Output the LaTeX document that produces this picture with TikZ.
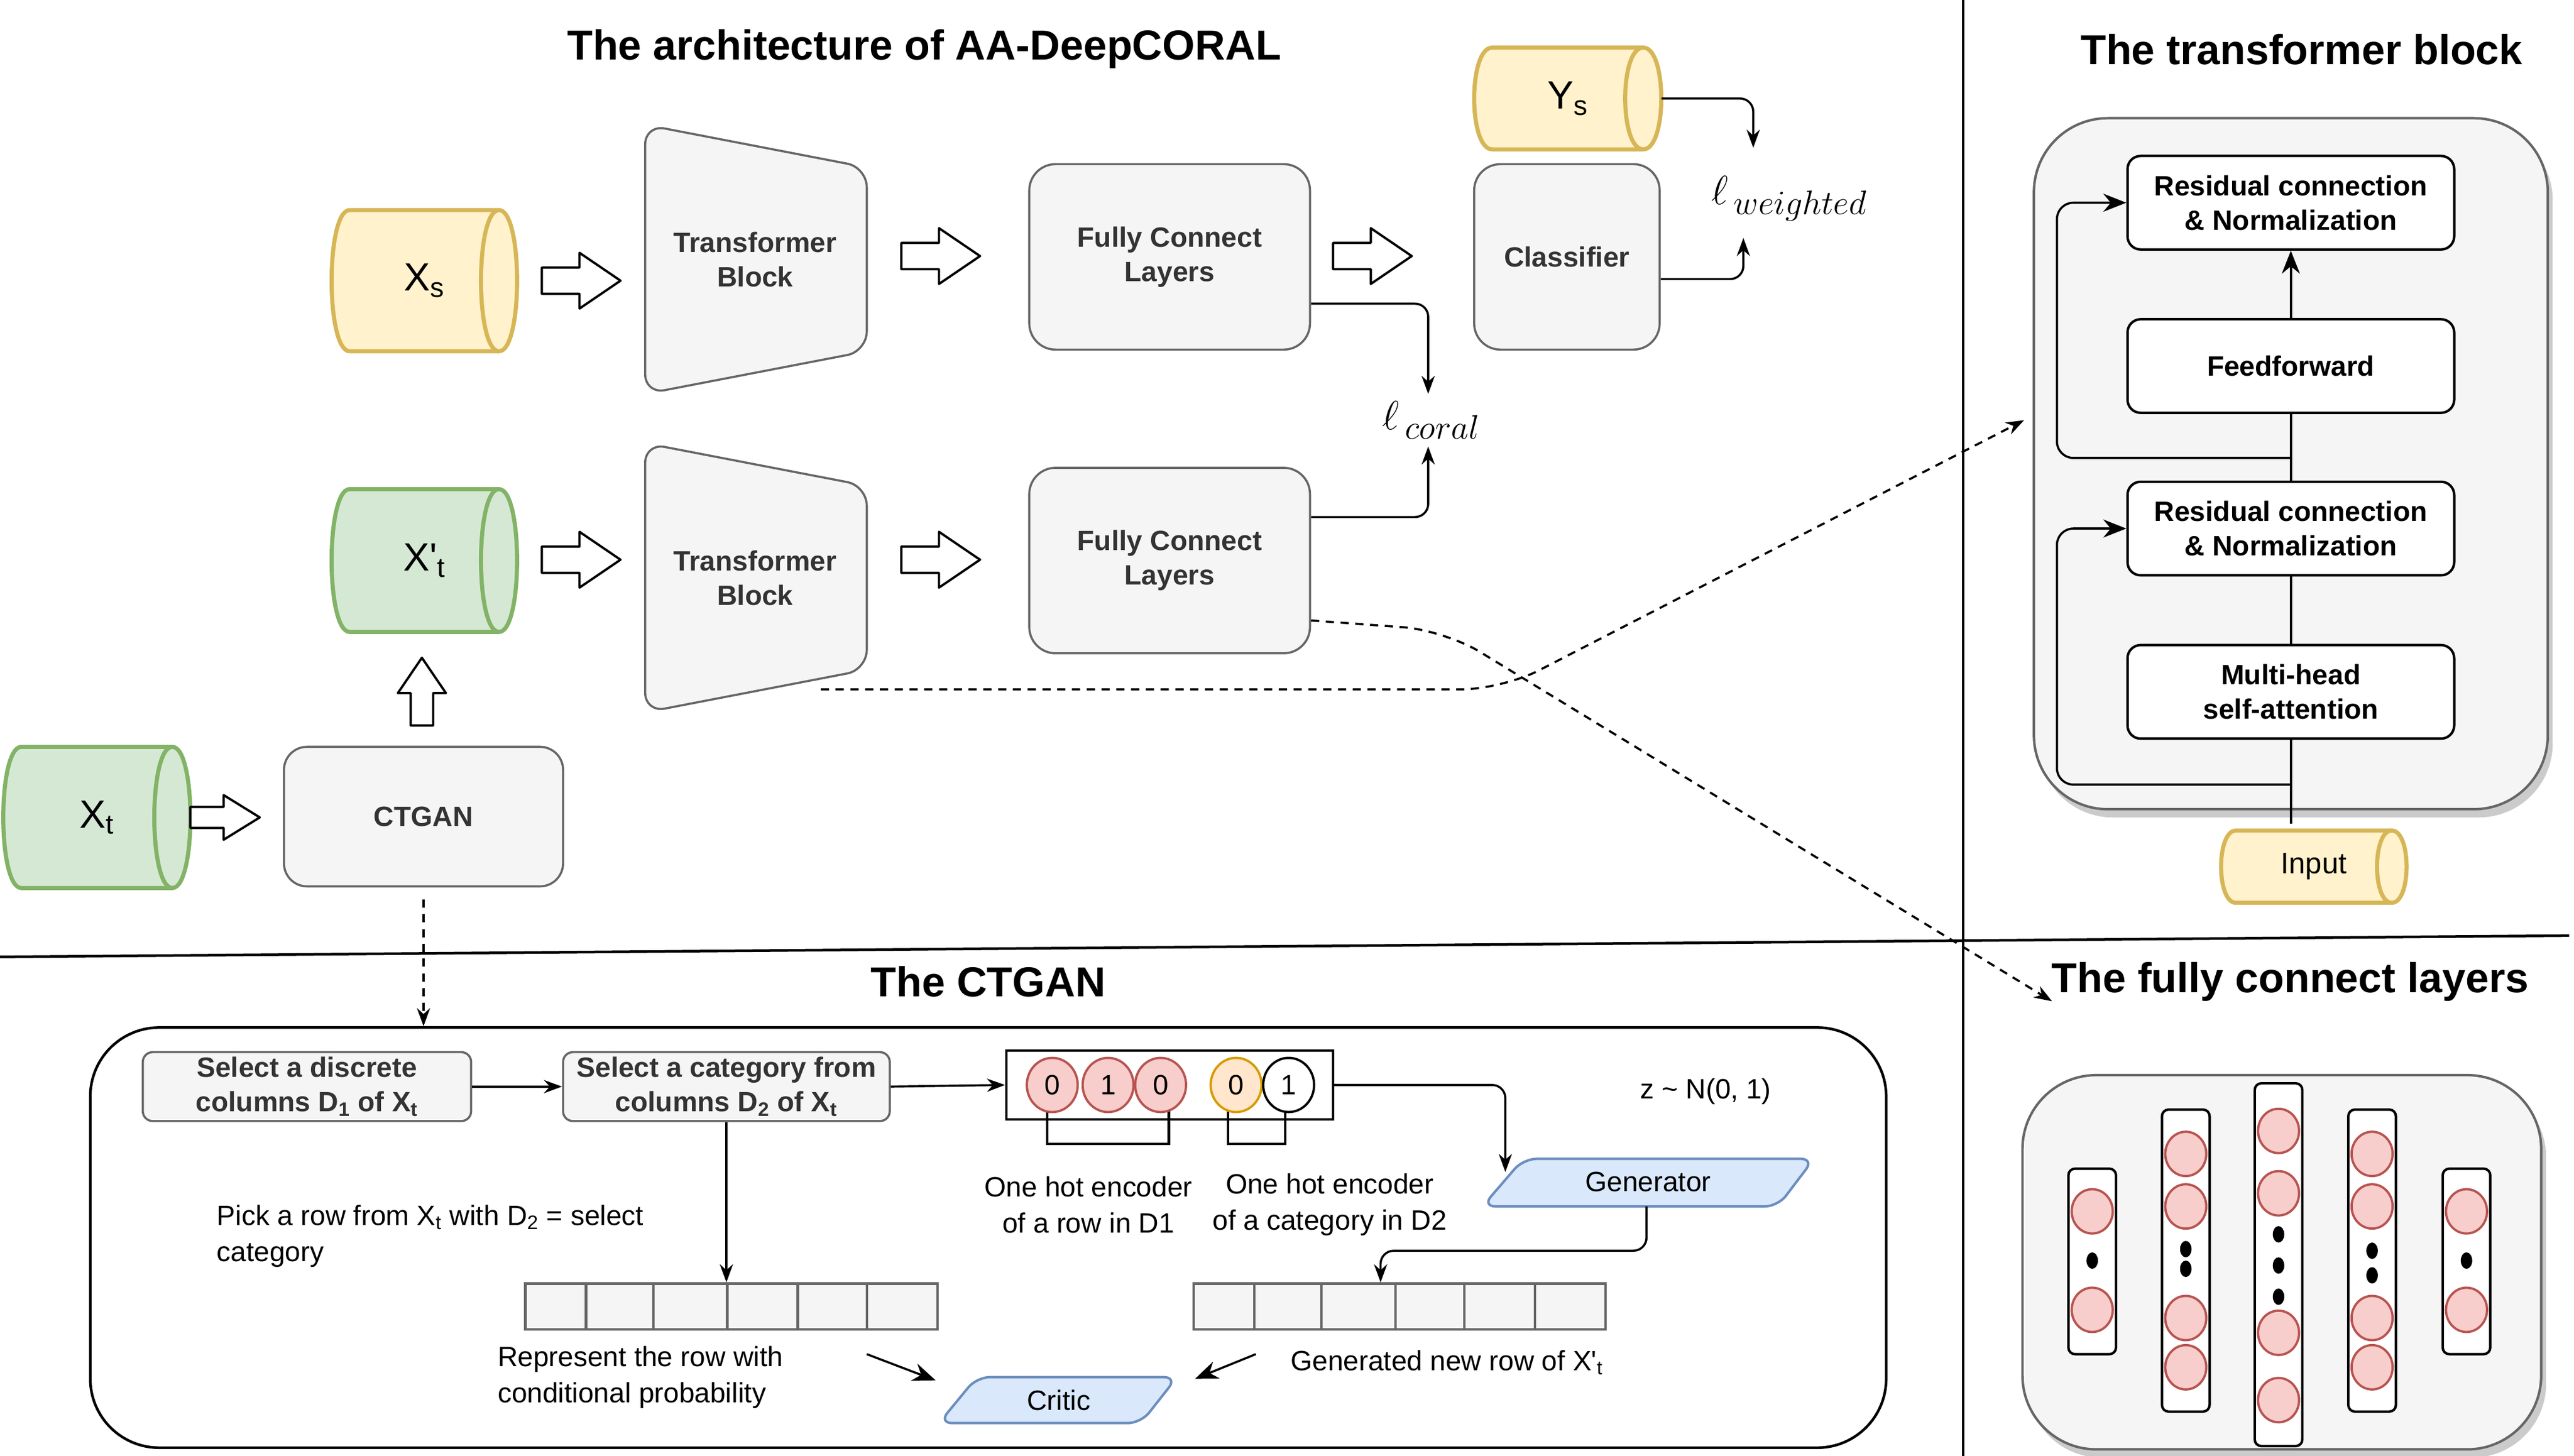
\documentclass[tikz,border=0pt]{standalone}
\usepackage{fontspec}
\setmainfont{Liberation Sans}
\usetikzlibrary{arrows.meta,shadows,shapes.geometric}
\definecolor{gfill}{HTML}{F5F5F5}
\definecolor{gstroke}{HTML}{666666}
\definecolor{gtext}{HTML}{333333}
\definecolor{yfill}{HTML}{FFF2CC}
\definecolor{ystroke}{HTML}{D6B656}
\definecolor{grfill}{HTML}{D5E8D4}
\definecolor{grstroke}{HTML}{82B366}
\definecolor{bfill}{HTML}{DAE8FC}
\definecolor{bstroke}{HTML}{6C8EBF}
\definecolor{rfill}{HTML}{F8CECC}
\definecolor{rstroke}{HTML}{B85450}
\definecolor{ofill}{HTML}{FFE6CC}
\definecolor{ostroke}{HTML}{D79B00}

\newcommand\sq{\XeTeXglyph\XeTeXcharglyph"27\relax}

% name, x1, y1, x2, y2, r, fill, stroke, text
\newcommand\hcyl[9]{%
  \path[fill=#7,draw=#8,line width=2.5]
    ({#2+#6},#3) -- ({#4-#6},#3)
    .. controls ({#4+#6/3},#3) and ({#4+#6/3},#5) .. ({#4-#6},#5)
    -- ({#2+#6},#5)
    .. controls ({#2-#6/3},#5) and ({#2-#6/3},#3) .. ({#2+#6},#3) -- cycle;
  \draw[draw=#8,line width=2.5] ({#4-#6},#3) .. controls ({#4-#6-4*#6/3},#3) and ({#4-#6-4*#6/3},#5) .. ({#4-#6},#5);
  \node[inner sep=0, minimum width={#4-#2}, minimum height={#5-#3}] (#1) at ({(#2+#4)/2},{(#3+#5)/2}) {#9};
}

\tikzset{
  barrow/.pic={\draw[line width=1.4, fill=white, line join=round]
     (0,-8) -- (23,-8) -- (23,-17) -- (48,0) -- (23,17) -- (23,8) -- (0,8) -- cycle;},
  gbox/.style={draw=gstroke, fill=gfill, line width=1.3, rounded corners=16, text=gtext,
     font=\fontsize{17}{21}\selectfont\bfseries, align=center, inner sep=0},
  sbox/.style={gbox, rounded corners=6, minimum width=200, minimum height=42},
  wbox/.style={draw=black, fill=white, line width=1.5, rounded corners=8,
     font=\fontsize{17}{21}\selectfont\bfseries, align=center, inner sep=0,
     minimum width=199, minimum height=57},
  txt/.style={font=\fontsize{17}{22}\selectfont, inner sep=0, align=center},
  ttl/.style={font=\fontsize{25.5}{30}\selectfont\bfseries, inner sep=0},
  conn/.style={line width=1.3, -{Stealth[length=11,width=8]}},
  bigconn/.style={line width=1.3, -{Stealth[length=14,width=11]}},
  dconn/.style={conn, dash pattern=on 5 off 4},
  panel/.style={draw=gstroke, fill=gfill, line width=1.5, rounded corners=45,
     drop shadow={shadow xshift=3pt, shadow yshift=-5pt, opacity=0.45, fill=black!45}},
  col/.style={draw=black, fill=white, line width=1.5, rounded corners=4, minimum width=29, inner sep=0},
  neuron/.style={ellipse, draw=rstroke, fill=rfill, line width=1.4, minimum width=25, minimum height=27, inner sep=0},
  dotn/.style={ellipse, fill=black, minimum width=7, minimum height=10, inner sep=0},
  bit/.style={ellipse, line width=1.4, minimum width=31, minimum height=33, inner sep=0, font=\fontsize{17}{20}\selectfont},
  cell/.style={draw=gstroke, fill=gfill, line width=1.5, inner sep=0, minimum height=28},
}

\begin{document}
\begin{tikzpicture}[x=1pt,y=-1pt]
\useasboundingbox (0,0) rectangle (1568,887);

% separators
\draw[line width=1.3] (1196,0) -- (1196,887);
\draw[line width=1.6] (0,583) -- (1565,570);

% titles
\node[ttl] (t1) at (563,30) {The architecture of AA-DeepCORAL};
\node[ttl] (t2) at (1402,30) {The transformer block};
\node[ttl] (t3) at (602,598) {The CTGAN};
\node[ttl] (t4) at (1395,598) {The fully connect layers};

% ---------- top row ----------
\hcyl{xs}{202}{128}{315}{214}{11}{yfill}{ystroke}{\fontsize{24}{28}\selectfont X\textsubscript{s}}
\pic at (330,171) {barrow};
\draw[draw=gstroke, fill=gfill, line width=1.3, rounded corners=12]
  (393,76) -- (528,102) -- (528,214) -- (393,240) -- cycle;
\node[gbox, draw=none, fill=none] (tb1) at (460,158) {Transformer\\Block};
\pic at (549,156) {barrow};
\node[gbox, minimum width=171, minimum height=113] (fc1) at (712.5,156.5) {Fully Connect\\Layers};
\pic at (812,156) {barrow};
\node[gbox, minimum width=113, minimum height=113] (cls) at (954.5,156.5) {Classifier};
\hcyl{ys}{898}{29}{1012}{91}{11}{yfill}{ystroke}{\fontsize{24}{28}\selectfont Y\textsubscript{s}}

\node[inner sep=0] (lw) at (1090,121) {\fontsize{28}{32}\selectfont$\ell_{\,weighted}$};
\node[inner sep=0] (lc) at (872,256) {\fontsize{28}{32}\selectfont$\ell_{\,coral}$};

\draw[conn, rounded corners=8] (ys.east) -- (1068,60) -- (1068,90);
\draw[conn, rounded corners=8] (cls.east |- 0,170) -- (1062,170) -- (1062,145);
\draw[conn, rounded corners=8] (fc1.east |- 0,185) -- (870,185) -- (870,240);

% ---------- second row ----------
\hcyl{xpt}{202}{298}{315}{385}{11}{grfill}{grstroke}{\fontsize{24}{28}\selectfont X\sq\textsubscript{t}}
\pic at (330,341) {barrow};
\draw[draw=gstroke, fill=gfill, line width=1.3, rounded corners=12]
  (393,270) -- (528,296) -- (528,408) -- (393,434) -- cycle;
\node[gbox, draw=none, fill=none] (tb2) at (460,352) {Transformer\\Block};
\pic at (549,341) {barrow};
\node[gbox, minimum width=171, minimum height=113] (fc2) at (712.5,341.5) {Fully Connect\\Layers};
\draw[conn, rounded corners=8] (fc2.east |- 0,315) -- (870,315) -- (870,272);

\pic[rotate=90, scale=0.86] at (257,442) {barrow};
\hcyl{xt}{2}{455}{116}{541}{11}{grfill}{grstroke}{\fontsize{24}{28}\selectfont X\textsubscript{t}}
\pic[xscale=0.88, yscale=0.8] at (116,498) {barrow};
\node[gbox, minimum width=170, minimum height=85, rounded corners=14] (ctgan) at (258,497.5) {CTGAN};

% ---------- transformer block panel ----------
\node[panel, minimum width=313, minimum height=421] (tpanel) at (1395.5,282.5) {};
\node[wbox] (res1) at (1395.5,123.5) {Residual connection\\\& Normalization};
\node[wbox] (ff) at (1395.5,223) {Feedforward};
\node[wbox] (res2) at (1395.5,322) {Residual connection\\\& Normalization};
\node[wbox] (mh) at (1395.5,421.5) {Multi-head\\self-attention};
\hcyl{inp}{1353}{506}{1466}{550}{9}{yfill}{ystroke}{\fontsize{18}{22}\selectfont Input}
\draw[line width=1.3] (mh.south) -- ([yshift=4pt]mh.south |- inp.north);
\draw[bigconn, rounded corners=10] (1395.5,478) -- (1253,478) |- (res2.west);
\draw[line width=1.3] (mh.north) -- (res2.south);
\draw[line width=1.3] (res2.north) -- (ff.south);
\draw[bigconn, rounded corners=10] (1395.5,279) -- (1253,279) |- (res1.west);
\draw[bigconn] (ff.north) -- (res1.south);

% ---------- fully connect panel ----------
\node[panel, minimum width=316, minimum height=228] (fpanel) at (1390,769) {};
\node[col, minimum height=113] (col1) at (1274.5,768.5) {};
\node[col, minimum height=184] (col2) at (1331.5,768) {};
\node[col, minimum height=221] (col3) at (1388,770.5) {};
\node[col, minimum height=184] (col4) at (1445,768) {};
\node[col, minimum height=113] (col5) at (1502.5,768.5) {};
\foreach \y in {738,798} {\node[neuron] (na\y) at (1274.5,\y) {}; \node[neuron] (ne\y) at (1502.5,\y) {};}
\node[dotn] (da) at (1274.5,768) {};
\node[dotn] (de) at (1502.5,768) {};
\foreach \y in {703,735,803,833} {\node[neuron] (nb\y) at (1331.5,\y) {}; \node[neuron] (nd\y) at (1445,\y) {};}
\foreach \y in {761,773} {\node[dotn] (db\y) at (1331.5,\y) {};}
\foreach \y in {762,777} {\node[dotn] (dd\y) at (1445,\y) {};}
\foreach \y in {689,727,812,853} {\node[neuron] (nc\y) at (1388,\y) {};}
\foreach \y in {752,771,790} {\node[dotn] (dc\y) at (1388,\y) {};}

% ---------- dashed links ----------
\coordinate (tb2b) at (500,420);
\coordinate (tpin) at (1233,256);
\draw[dconn, rounded corners=25] (tb2b) -- (915,420) -- (tpin);
\coordinate (fpin) at (1250,610);
\draw[dconn, rounded corners=25] (fc2.east |- 0,378) -- (880,384) -- (fpin);

% ---------- CTGAN panel ----------
\node[draw=black, fill=white, line width=1.6, rounded corners=42, minimum width=1094, minimum height=256] (cpanel) at (602,754) {};
\draw[dconn] (ctgan.south |- 0,548) -- (ctgan.south |- cpanel.north);

\node[sbox] (sel1) at (187,662) {Select a discrete\\columns D\textsubscript{1} of X\textsubscript{t}};
\node[sbox, minimum width=199] (sel2) at (442.5,662) {Select a category from\\columns D\textsubscript{2} of X\textsubscript{t}};
\draw[conn] (sel1.east) -- (sel2.west);

\node[draw=black, line width=1.5, minimum width=199, minimum height=42, inner sep=0] (oh) at (712.5,661) {};
\draw[line width=1.5] (638,676) -- (638,697) -- (712,697) -- (712,676);
\draw[line width=1.5] (748,676) -- (748,697) -- (783,697) -- (783,676);
\node[bit, draw=rstroke, fill=rfill] (b1) at (641,661) {0};
\node[bit, draw=rstroke, fill=rfill] (b2) at (675,661) {1};
\node[bit, draw=rstroke, fill=rfill] (b3) at (707,661) {0};
\node[bit, draw=ostroke, fill=ofill] (b4) at (753,661) {0};
\node[bit, draw=black, fill=white] (b5) at (785,661) {1};
\draw[conn] (sel2.east) -- (oh.west);

\node[txt] (oh1) at (663,734) {One hot encoder\\of a row in D1};
\node[txt] (oh2) at (810,734) {One hot encoder\\of a category in D2};
\node[txt] (z) at (1039,665) {z \textasciitilde{} N(0, 1)};

\draw[draw=bstroke, fill=bfill, line width=1.5, rounded corners=8]
  (928,706) -- (1105,706) -- (1083,735) -- (903,735) -- cycle;
\node[txt] (gen) at (1004,720) {Generator};
\coordinate (genin) at (917,714);
\draw[conn, rounded corners=8] (oh.east) -- (917,661) -- (genin);

\node[txt, align=left, anchor=north west] (pick) at (132,734) {Pick a row from X\textsubscript{t} with D\textsubscript{2} = select\\category};

\node[cell, minimum width=251] (row1) at (445.5,796) {};
\foreach \x in {357,398,443,486,528} \draw[draw=gstroke, line width=1.5] (\x,782) -- (\x,810);
\node[cell, minimum width=251] (row2) at (852.5,796) {};
\foreach \x in {764,805,850,892,935} \draw[draw=gstroke, line width=1.5] (\x,782) -- (\x,810);
\draw[conn] (sel2.south) -- (sel2.south |- row1.north);
\coordinate (genout) at (1003,735);
\draw[conn, rounded corners=8] (genout) -- (1003,762) -- (841,762) -- (841,0 |- row2.north);

\node[txt, align=left, anchor=north west] (rep) at (303,820) {Represent the row with\\conditional probability};
\node[txt, anchor=west] (gnr) at (786,830) {Generated new row of X\sq\textsubscript{t}};

\draw[draw=bstroke, fill=bfill, line width=1.5, rounded corners=8]
  (595,839) -- (717,839) -- (695,867) -- (572,867) -- cycle;
\node[txt] (critic) at (645,853) {Critic};
\coordinate (ca) at (528,825);
\coordinate (cb) at (570,841);
\coordinate (cc) at (765,825);
\coordinate (cd) at (728,840);
\draw[bigconn] (ca) -- (cb);
\draw[bigconn] (cc) -- (cd);
\end{tikzpicture}
\end{document}
